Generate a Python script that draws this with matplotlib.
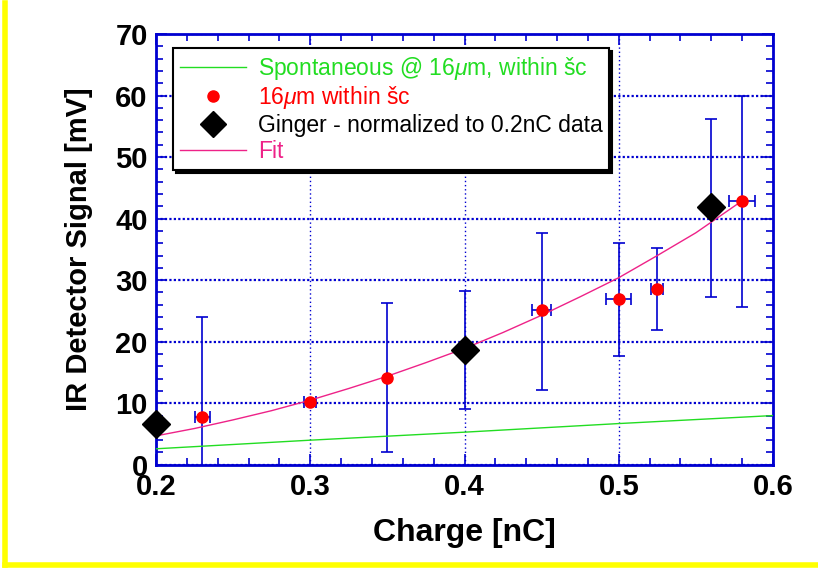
import matplotlib
matplotlib.use('Agg')
import matplotlib.pyplot as plt
from matplotlib.lines import Line2D
from matplotlib.ticker import MultipleLocator

plt.rcParams['font.family'] = ['Liberation Sans', 'DejaVu Sans']
plt.rcParams['mathtext.fontset'] = 'custom'
plt.rcParams['mathtext.it'] = 'Liberation Sans:italic'
plt.rcParams['mathtext.rm'] = 'Liberation Sans'

# measured 16um signal within sc
meas_q = [0.23, 0.30, 0.35, 0.45, 0.50, 0.525, 0.58]
meas_mv = [7.8, 10.2, 14.1, 25.2, 27.0, 28.6, 42.9]
meas_lo = [-5.0, 10.2, 2.0, 12.2, 17.7, 21.9, 25.6]
meas_hi = [24.0, 10.2, 26.3, 37.7, 36.0, 35.2, 59.9]
meas_qerr = [0.005, 0.004, 0.0, 0.006, 0.008, 0.004, 0.0085]

# Ginger simulation, normalized to 0.2 nC
ginger_q = [0.20, 0.40, 0.56]
ginger_mv = [6.7, 18.7, 41.9]
ginger_lo = [6.7, 9.1, 27.3]
ginger_hi = [6.7, 28.2, 56.2]

# spontaneous emission curve
spont_q = [0.2, 0.3, 0.4, 0.5, 0.6]
spont_mv = [2.6, 4.0, 5.3, 6.7, 8.0]

# fit curve
fit_q = [0.20, 0.225, 0.25, 0.275, 0.30, 0.325, 0.35, 0.375, 0.40, 0.425,
         0.45, 0.475, 0.50, 0.525, 0.55, 0.58]
fit_mv = [4.7, 5.9, 7.3, 8.8, 10.5, 12.4, 14.4, 16.6, 18.9, 21.5,
          24.3, 27.3, 30.4, 34.0, 37.7, 42.9]

blue = '#0000d0'

fig = plt.figure(figsize=(8.18, 5.71), dpi=100)
ax = fig.add_axes([0.1907, 0.186, 0.7543, 0.7545])

ax.plot(spont_q, spont_mv, color='#22dd22', lw=1.0, zorder=3)
ax.plot(fit_q, fit_mv, color='#ee2288', lw=1.0, zorder=3)

# error bars
m_yerr = [[v - lo for v, lo in zip(meas_mv, meas_lo)],
          [hi - v for v, hi in zip(meas_mv, meas_hi)]]
ax.errorbar(meas_q, meas_mv, yerr=m_yerr, xerr=meas_qerr, fmt='none',
            ecolor=blue, elinewidth=1.2, capsize=4, capthick=1.2, zorder=2)
g_yerr = [[v - lo for v, lo in zip(ginger_mv, ginger_lo)],
          [hi - v for v, hi in zip(ginger_mv, ginger_hi)]]
ax.errorbar(ginger_q, ginger_mv, yerr=g_yerr, fmt='none',
            ecolor=blue, elinewidth=1.2, capsize=4, capthick=1.2, zorder=2)

ax.plot(meas_q, meas_mv, 'o', color='red', ms=8, zorder=5, clip_on=False)
ax.plot(ginger_q, ginger_mv, 'D', color='black', ms=14, zorder=6, clip_on=False)

ax.set_xlim(0.2, 0.6)
ax.set_ylim(0, 70)
ax.xaxis.set_major_locator(MultipleLocator(0.1))
ax.xaxis.set_minor_locator(MultipleLocator(0.02))
ax.yaxis.set_major_locator(MultipleLocator(10))
ax.yaxis.set_minor_locator(MultipleLocator(2))
ax.tick_params(which='both', direction='in', top=True, right=True,
               color=blue, width=1.2)
ax.tick_params(which='major', length=8, labelsize=21, pad=6)
ax.tick_params(which='minor', length=5)
for lab in ax.get_xticklabels() + ax.get_yticklabels():
    lab.set_fontweight('bold')
ax.xaxis.set_major_formatter(plt.FuncFormatter(lambda v, p: f'{v:.1f}'))
ax.yaxis.set_major_formatter(plt.FuncFormatter(lambda v, p: f'{v:.0f}'))
for s in ax.spines.values():
    s.set_color(blue)
    s.set_linewidth(2)

ax.grid(True, which='major', axis='y', color=blue, ls=(0, (1, 1)), lw=1.6)
ax.grid(True, which='major', axis='x', color=blue, ls=(0, (1, 2)), lw=1.0)

ax.set_xlabel('Charge [nC]', fontsize=23, fontweight='bold', labelpad=12)
ax.set_ylabel('IR Detector Signal [mV]', fontsize=21, fontweight='bold', labelpad=16)

handles = [
    Line2D([], [], color='#22dd22', lw=1.0),
    Line2D([], [], marker='o', ls='none', color='red', ms=8),
    Line2D([], [], marker='D', ls='none', color='black', ms=13),
    Line2D([], [], color='#ee2288', lw=1.0),
]
labels = [r'Spontaneous @ 16$\mu$m, within šc', r'16$\mu$m within šc',
          'Ginger - normalized to 0.2nC data', 'Fit']
leg = ax.legend(handles, labels, loc='upper left', bbox_to_anchor=(0.0276, 0.968),
                fontsize=16.5, frameon=True, fancybox=False, handlelength=2.9,
                handletextpad=0.5, borderpad=0.3, labelspacing=0.12,
                borderaxespad=0.0,
                shadow={'color': 'black', 'alpha': 1.0})
leg.get_frame().set_edgecolor('black')
leg.get_frame().set_linewidth(1.5)
leg.set_zorder(10)
for txt, c in zip(leg.get_texts(), ['#22dd22', 'red', 'black', '#ee2288']):
    txt.set_color(c)

# yellow slide frame
fig.add_artist(Line2D([0.0067, 0.0067], [0.0105, 0.995], color='yellow', lw=4,
                      transform=fig.transFigure))
fig.add_artist(Line2D([0.0067, 1.0], [0.0105, 0.0105], color='yellow', lw=4,
                      transform=fig.transFigure))

fig.savefig('out.png', dpi=100)
